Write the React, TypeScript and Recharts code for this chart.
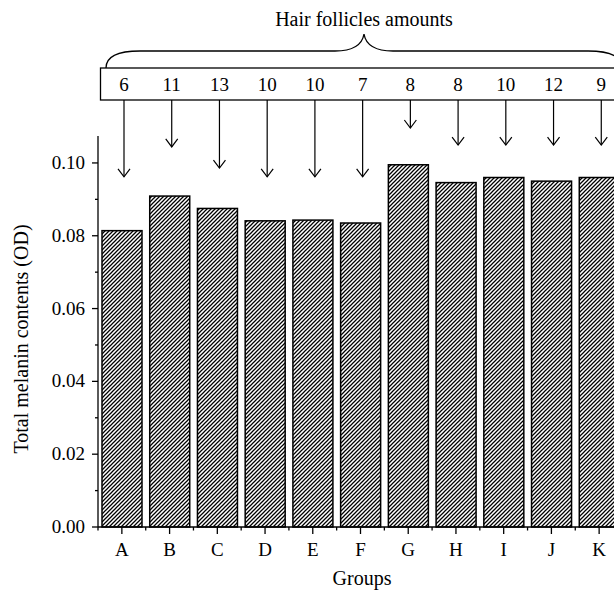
import React from 'react';
import { BarChart, Bar, XAxis, YAxis } from 'recharts';

const groups = ['A', 'B', 'C', 'D', 'E', 'F', 'G', 'H', 'I', 'J', 'K'];
const melanin = [0.0814, 0.0909, 0.0875, 0.0841, 0.0843, 0.0835, 0.0995, 0.0946, 0.096, 0.095, 0.096];
const follicles = [6, 11, 13, 10, 10, 7, 8, 8, 10, 12, 9];
// where each follicle arrow stops, in OD units
const arrowTips = [0.0962, 0.1044, 0.0986, 0.0962, 0.0962, 0.0962, 0.1096, 0.1049, 0.1049, 0.1049, 0.1049];
const yTicks = [0, 0.01, 0.02, 0.03, 0.04, 0.05, 0.06, 0.07, 0.08, 0.09, 0.1];

const data = groups.map((g, i) => ({
  group: g,
  melanin: melanin[i],
  follicles: follicles[i],
  arrowTip: arrowTips[i],
}));

const FONT = '"Liberation Serif", "DejaVu Serif", serif';
const W = 623;
const H = 595;
const MARGIN = { top: 136, right: 0, bottom: 28, left: 38 };
const Y_AXIS_W = 60;
const BAND = (W - MARGIN.left - Y_AXIS_W - MARGIN.right) / groups.length;
const BOX_TOP = 68;
const BOX_BOTTOM = 100;

function HatchBar(props: any) {
  const { x, y, width, height, payload } = props;
  const base = y + height;
  const pxPerUnit = height / payload.melanin;
  const tipY = base - payload.arrowTip * pxPerUnit;
  const cx = x + width / 2 + 2;
  return (
    <g>
      <rect x={x} y={y} width={width} height={height} fill="url(#hatch)" stroke="#000" strokeWidth={1.5} />
      <line x1={cx} x2={cx} y1={BOX_BOTTOM} y2={tipY} stroke="#000" strokeWidth={1.2} />
      <polyline
        points={`${cx - 6},${tipY - 8} ${cx},${tipY} ${cx + 6},${tipY - 8}`}
        fill="none"
        stroke="#000"
        strokeWidth={1.2}
      />
      <text x={cx} y={BOX_BOTTOM - 9} textAnchor="middle" fontFamily={FONT} fontSize={19} fill="#000">
        {payload.follicles}
      </text>
    </g>
  );
}

function YTick(props: any) {
  const { x, y, payload } = props;
  const v = payload.value;
  const major = Math.round(v * 100) % 2 === 0;
  return (
    <g>
      <line x1={x} x2={x - (major ? 6 : 3)} y1={y} y2={y} stroke="#000" strokeWidth={1.3} />
      {major && (
        <text x={x - 13} y={y + 6} textAnchor="end" fontFamily={FONT} fontSize={19} fill="#000">
          {v.toFixed(2)}
        </text>
      )}
    </g>
  );
}

function XTick(props: any) {
  const { x, y, payload } = props;
  const left = x - BAND / 2;
  return (
    <g>
      <line x1={x} x2={x} y1={y} y2={y + 7} stroke="#000" strokeWidth={1.3} />
      <line x1={left} x2={left} y1={y} y2={y + 3.5} stroke="#000" strokeWidth={1.3} />
      <text x={x} y={y + 29} textAnchor="middle" fontFamily={FONT} fontSize={19} fill="#000">
        {payload.value}
      </text>
    </g>
  );
}

export default function App() {
  return (
    <div style={{ position: 'absolute', left: 0, top: 0, width: 614, height: 595, overflow: 'hidden', background: '#fff' }}>
      <BarChart width={W} height={H} data={data} margin={MARGIN}>
        <defs>
          <pattern id="hatch" patternUnits="userSpaceOnUse" width={4} height={4}>
            <rect width={4} height={4} fill="#fff" />
            <path d="M-1,1 l2,-2 M0,4 l4,-4 M3,5 l2,-2" stroke="#000" strokeWidth={1.25} />
          </pattern>
        </defs>
        <XAxis
          dataKey="group"
          height={40}
          interval={0}
          tickSize={0}
          tickMargin={0}
          tickLine={false}
          tick={<XTick />}
          axisLine={{ stroke: '#000', strokeWidth: 1.3 }}
        />
        <YAxis
          width={Y_AXIS_W}
          domain={[0, 0.1074]}
          ticks={yTicks}
          interval={0}
          tickSize={0}
          tickMargin={0}
          tickLine={false}
          tick={<YTick />}
          axisLine={{ stroke: '#000', strokeWidth: 1.3 }}
        />
        <Bar dataKey="melanin" barSize={40} isAnimationActive={false} shape={<HatchBar />} />
      </BarChart>
      <svg width={614} height={595} style={{ position: 'absolute', left: 0, top: 0, pointerEvents: 'none' }}>
        <text x={364} y={26} textAnchor="middle" fontFamily={FONT} fontSize={20} fill="#000">
          Hair follicles amounts
        </text>
        <path
          d="M106,68 C106,56 118,51 140,51 L335,51 C352,51 362,46 364,34 C366,46 376,51 393,51 L588,51 C610,51 622,56 622,68"
          fill="none"
          stroke="#000"
          strokeWidth={1.3}
        />
        <rect x={100.5} y={BOX_TOP} width={530} height={BOX_BOTTOM - BOX_TOP} fill="none" stroke="#000" strokeWidth={1.3} />
        <text x={362} y={585} textAnchor="middle" fontFamily={FONT} fontSize={20} fill="#000">
          Groups
        </text>
        <text
          x={0}
          y={0}
          transform="translate(28,339) rotate(-90)"
          textAnchor="middle"
          fontFamily={FONT}
          fontSize={20}
          fill="#000"
        >
          Total melanin contents (OD)
        </text>
      </svg>
    </div>
  );
}
